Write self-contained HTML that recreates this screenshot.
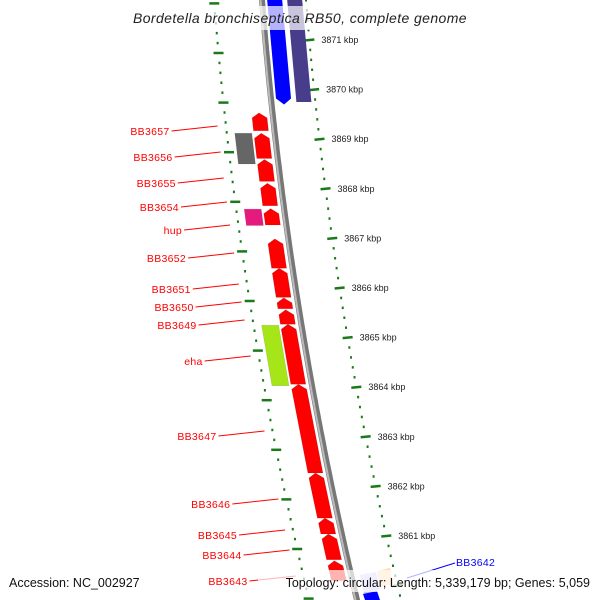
<!DOCTYPE html>
<html><head><meta charset="utf-8"><style>
html,body{margin:0;padding:0;background:#fff}
svg{display:block}
text{font-family:"Liberation Sans",sans-serif}
</style></head><body>
<svg id="map" width="600" height="600" viewBox="0 0 600 600" xmlns="http://www.w3.org/2000/svg"></svg>
<script>
// ---- data ----
const tickKbp = [3871,3870,3869,3868,3867,3866,3865,3864,3863,3862,3861];
const tickLabels = ["3871 kbp","3870 kbp","3869 kbp","3868 kbp","3867 kbp","3866 kbp","3865 kbp","3864 kbp","3863 kbp","3862 kbp","3861 kbp"];
// reverse-strand genes (start kbp = top, end kbp = bottom)
const redNames = ["BB3657","BB3656","BB3655","BB3654","BB3653","BB3652","BB3651","BB3650","BB3649","BB3648","BB3647","BB3646","BB3645","BB3644","BB3643"];
const redStart = [3869.53,3869.12,3868.59,3868.11,3867.60,3866.99,3866.40,3865.80,3865.56,3865.27,3864.06,3862.27,3861.36,3861.04,3860.50];
const redEnd   = [3869.17,3868.61,3868.15,3867.66,3867.27,3866.40,3865.81,3865.58,3865.27,3864.06,3862.27,3861.36,3861.04,3860.52,3860.10];
const otherNames = ["gray-gene","hup","eha"];
const otherStart = [3869.12,3867.59,3865.25];
const otherEnd   = [3868.50,3867.26,3864.03];
const otherColor = ["#666666","#e6197f","#a6e619"];
const labelText = ["BB3657","BB3656","BB3655","BB3654","hup","BB3652","BB3651","BB3650","BB3649","eha","BB3647","BB3646","BB3645","BB3644","BB3643"];
const labelY = [131,157,183,207,230,258,289,307,325,361,436,504,535,555,581];
// ---- layout helpers ----
const svg = document.getElementById('map');
const NS = "http://www.w3.org/2000/svg";
function yOf(k){ return 40 + (3871 - k) * 49.6; }
function bx(y){ return 262 + 0.07833*y + 0.0001333*y*y; }
function pt(k, off){ const y = yOf(k); return [bx(y)+off, y]; }
function mk(tag, attrs, parent){
  const el = document.createElementNS(NS, tag);
  for (const a in attrs) el.setAttribute(a, attrs[a]);
  (parent||svg).appendChild(el); return el;
}
function ptsStr(a){ return a.map(p=>p[0].toFixed(1)+","+p[1].toFixed(1)).join(" "); }
// backbone
let d = "";
for (let y=-5; y<=605; y+=5){ d += (y===-5?"M":"L") + bx(y).toFixed(1) + "," + y; }
const bb = mk('path',{d:d,stroke:'#777',"stroke-width":6,fill:'none'});


const bb2 = mk('path',{d:d,stroke:'#bbb',"stroke-width":2,fill:'none',transform:'translate(-1.5,0)'});


// tick rings
for (let k=3872.4; k>=3859.6; k-=0.2){
  const kr = Math.round(k*10)/10;
  const major = Math.abs(kr - Math.round(kr)) < 0.01;
  const y = yOf(kr);
  // outer ring
  const xo = bx(y)+44;
  const t = mk('line',{x1:xo-(major?5:1),y1:y+(major?0.5:0),x2:xo+(major?5:1),y2:y-(major?0.5:0),stroke:'#1a7a1a',"stroke-width":major?2.5:2.5});
  
  
  // inner ring
  const yi = y + 13;
  const xi = bx(yi)-48;
  const t2 = mk('line',{x1:xi-(major?5:1),y1:yi,x2:xi+(major?5:1),y2:yi,stroke:'#1a7a1a',"stroke-width":2.5});
  
  
}
tickKbp.forEach((k,i)=>{
  const y = yOf(k);
  const tx = mk('text',{x:bx(y)+56,y:y+3,"font-size":9,fill:'#222'});
  tx.textContent = tickLabels[i];
  
  
});
// forward genes near top (blue, purple)
function geneDown(k1,k2,o1,o2,color,name,head){
  const p = [pt(k1,o1),pt(k1,o2)];
  const yb = yOf(k2);
  if (head){
    p.push([bx(yb-6)+o2,yb-6],[bx(yb)+(o1+o2)/2,yb],[bx(yb-6)+o1,yb-6]);
  } else { p.push([bx(yb)+o2,yb],[bx(yb)+o1,yb]); }
  const g = mk('polygon',{points:ptsStr([p[0],p[1],...p.slice(2)]),fill:color});
  
  
}
geneDown(3872.0,3869.7,5,20,'#0000ff','gene-blue-top',true);
geneDown(3872.0,3869.75,25,40,'#483d8b','gene-purple-top',false);
function geneUp(k1,k2,o1,o2,color,name,head){
  const yt = yOf(k1), yb = yOf(k2);
  let p;
  if (head){
    p = [[bx(yt)+(o1+o2)/2,yt],[bx(yt+5)+o2,yt+5],[bx(yb)+o2,yb],[bx(yb)+o1,yb],[bx(yt+5)+o1,yt+5]];
  } else {
    p = [[bx(yt)+o1,yt],[bx(yt)+o2,yt],[bx(yb)+o2,yb],[bx(yb)+o1,yb]];
  }
  const g = mk('polygon',{points:ptsStr(p),fill:color,stroke:'rgba(0,0,0,0.15)',"stroke-width":0.6});
  
  
}
redNames.forEach((n,i)=>{ geneUp(redStart[i],redEnd[i],-21,-6,'#ff0000','gene-'+n.toLowerCase(),true); });
otherNames.forEach((n,i)=>{ geneUp(otherStart[i],otherEnd[i],-40,-23,otherColor[i],'gene-'+n,false); });
// labels
labelText.forEach((t,i)=>{
  const y = labelY[i];
  const xEnd = bx(y)-57;
  const xs = xEnd - 46;
  const ln = mk('line',{x1:xs,y1:y,x2:xEnd,y2:y-5,stroke:'#ff0000',"stroke-width":1});
  
  
  const tx = mk('text',{x:xs-2,y:y+4,"font-size":10.5,fill:'#ff0000',"text-anchor":'end',"letter-spacing":0.3});
  tx.textContent = t;
  
  
});
// bottom features
const b1 = mk('polygon',{points:"360,575 376,572 380,590 364,594",fill:'#c8c8ff'});


const b2 = mk('polygon',{points:"377,571 390,568 393,584 380,587",fill:'#ffd9a8'});


const b3 = mk('polygon',{points:"363,594 377,591 380,600 365,600",fill:'#0000ff'});


const bl = mk('line',{x1:407,y1:578,x2:455,y2:563,stroke:'#0000ff',"stroke-width":1});


const bt = mk('text',{x:456,y:566,"font-size":10.5,fill:'#0000ff',"letter-spacing":0.3});
bt.textContent = "BB3642";


// title and footer
const tb = mk('rect',{x:122,y:6,width:356,height:24,fill:'rgba(255,255,255,0.7)'});


const tt = mk('text',{x:300,y:23,"font-size":14,"font-style":'italic',fill:'#222',"text-anchor":'middle',"letter-spacing":0.4});
tt.textContent = "Bordetella bronchiseptica RB50, complete genome";


const fb = mk('rect',{x:258,y:570,width:336,height:22,fill:'rgba(255,255,255,0.7)'});


const f1 = mk('text',{x:9,y:587,"font-size":12.5,fill:'#111'});
f1.textContent = "Accession: NC_002927";


const f2 = mk('text',{x:590,y:587,"font-size":12.5,fill:'#111',"text-anchor":'end'});
f2.textContent = "Topology: circular; Length: 5,339,179 bp; Genes: 5,059";


</script>
</body></html>
